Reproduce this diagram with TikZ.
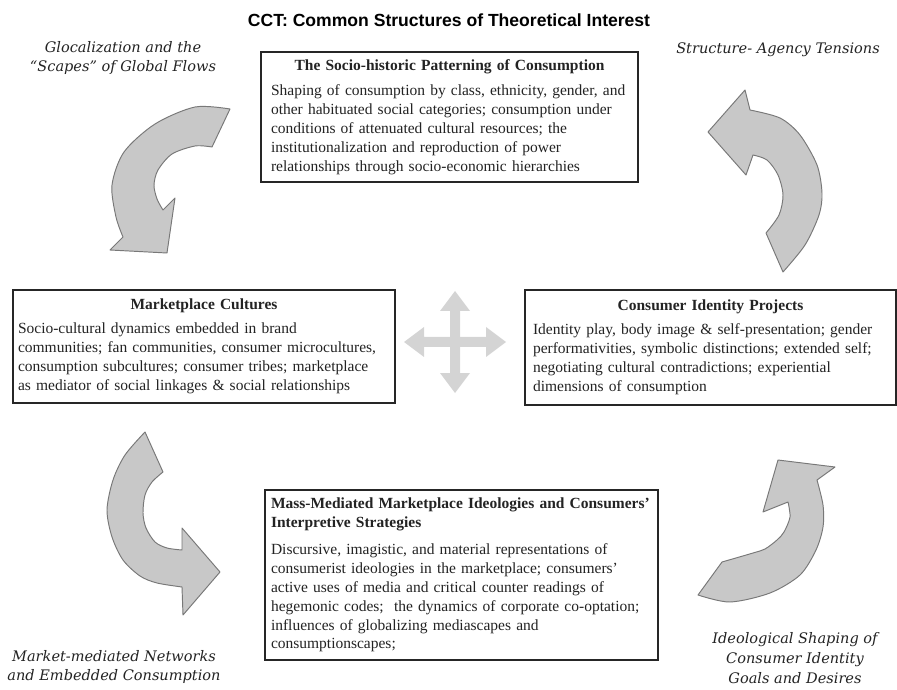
\documentclass[tikz,border=0pt]{standalone}
\usepackage{fontspec}
\setmainfont{Liberation Serif}
\newfontfamily\headfont{Liberation Sans}
\newfontfamily\flowfont{DejaVu Serif}
\usepackage{tikz}
\usetikzlibrary{positioning}
\hyphenpenalty=10000

\definecolor{arrowgray}{RGB}{200,200,200}
\definecolor{crossgray}{RGB}{212,212,212}
\definecolor{edgegray}{RGB}{120,120,120}
\definecolor{inkgray}{RGB}{35,35,35}

\begin{document}
\begin{tikzpicture}[
    x=0.022cm, y=-0.022cm,
    box/.style={rectangle, draw=black!85, line width=1.2pt, fill=white, align=left, inner xsep=0pt, inner ysep=2pt, text=inkgray, font=\fontsize{9.7}{11.85}\selectfont},
    flow/.style={align=center, text=inkgray, font=\flowfont\itshape\fontsize{9.1}{12.5}\selectfont},
    curvearrow/.style={fill=arrowgray, draw=edgegray, line width=0.6pt, line join=round},
    crossarrow/.style={fill=crossgray}
]
\useasboundingbox (0,0) rectangle (897,690);

% title and corner captions
\node (title) at (449,20) {\headfont\bfseries\fontsize{11}{13}\selectfont CCT: Common Structures of Theoretical Interest};
\node[flow] (glocal) at (123,58) {Glocalization and the\\“Scapes” of Global Flows};
\node[flow] (agency) at (778,50) {Structure- Agency Tensions};
\node[flow] (network) at (114,667) {Market-mediated Networks\\and Embedded Consumption};
\node[flow] (ideology) at (795,658) {Ideological Shaping of\\Consumer Identity\\Goals and Desires};

% the four boxes
\node[box, minimum width=8.294cm, minimum height=2.86cm, text width=7.854cm] (socio) at (449.5,117) {{\centering\bfseries The Socio-historic Patterning of Consumption\par}\vspace{4pt}
Shaping of consumption by class, ethnicity, gender, and\\
other habituated social categories; consumption under\\
conditions of attenuated cultural resources; the\\
institutionalization and reproduction of power\\
relationships through socio-economic hierarchies};
\node[box, minimum width=8.404cm, minimum height=2.486cm, text width=8.184cm] (market) at (204,346.5) {{\centering\bfseries Marketplace Cultures\par}\vspace{3pt}
Socio-cultural dynamics embedded in brand\\
communities; fan communities, consumer microcultures,\\
consumption subcultures; consumer tribes; marketplace\\
as mediator of social linkages \& social relationships};
\node[box, minimum width=8.162cm, minimum height=2.53cm, text width=7.81cm] (identity) at (710.5,347.5) {{\centering\bfseries Consumer Identity Projects\par}\vspace{3pt}
Identity play, body image \& self-presentation; gender\\
performativities, symbolic distinctions; extended self;\\
negotiating cultural contradictions; experiential\\
dimensions of consumption};
\node[box, minimum width=8.646cm, minimum height=3.74cm, text width=8.382cm] (mass) at (461.5,575) {{\bfseries Mass-Mediated Marketplace Ideologies and Consumers’\\ Interpretive Strategies\par}\vspace{5pt}
Discursive, imagistic, and material representations of\\
consumerist ideologies in the marketplace; consumers’\\
active uses of media and critical counter readings of\\
hegemonic codes;\ \ the dynamics of corporate co-optation;\\
influences of globalizing mediascapes and\\
consumptionscapes;};

% curved block arrows
\draw[curvearrow] plot[smooth] coordinates {(230,109) (195,107) (155,124) (124,152) (112,185) (116,217) (123,237)}
  -- (110,250) -- (167,253) -- (175,198) --
  plot[smooth] coordinates {(163,210) (157,199) (154,185) (158,170) (172,154) (195,146) (212,147)} -- cycle;
\draw[curvearrow] plot[smooth] coordinates {(783,272) (805,245) (819,215) (822,193) (817,165) (800,135) (780,118) (750,110)}
  -- (745,90) -- (708,132) -- (746,175) --
  plot[smooth] coordinates {(753,155) (767,160) (778,175) (783,195) (779,215) (766,233)} -- cycle;
\draw[curvearrow] plot[smooth] coordinates {(145,432) (125,455) (113,480) (107,510) (112,537) (123,560) (140,576) (157,583) (182,587)}
  -- (183,615) -- (220,572) -- (182,528) --
  plot[smooth] coordinates {(182,550) (167,548) (155,542) (146,528) (143,513) (145,495) (152,482) (163,472)} -- cycle;
\draw[curvearrow] plot[smooth] coordinates {(698,595) (730,602) (770,593) (800,575) (816,550) (823,527) (823,505) (817,480)}
  -- (835,467) -- (778,460) -- (763,512) --
  plot[smooth] coordinates {(788,502) (790,517) (784,532) (777,540) (765,549) (753,553) (722,562)} -- cycle;

% four-way arrow in the middle
\foreach \a in {0,90,180,270}
  \fill[crossarrow, shift={(455,342)}, rotate=\a] (0,-5) -- (31,-5) -- (31,-15) -- (51,0) -- (31,15) -- (31,5) -- (0,5) -- cycle;
\end{tikzpicture}
\end{document}
